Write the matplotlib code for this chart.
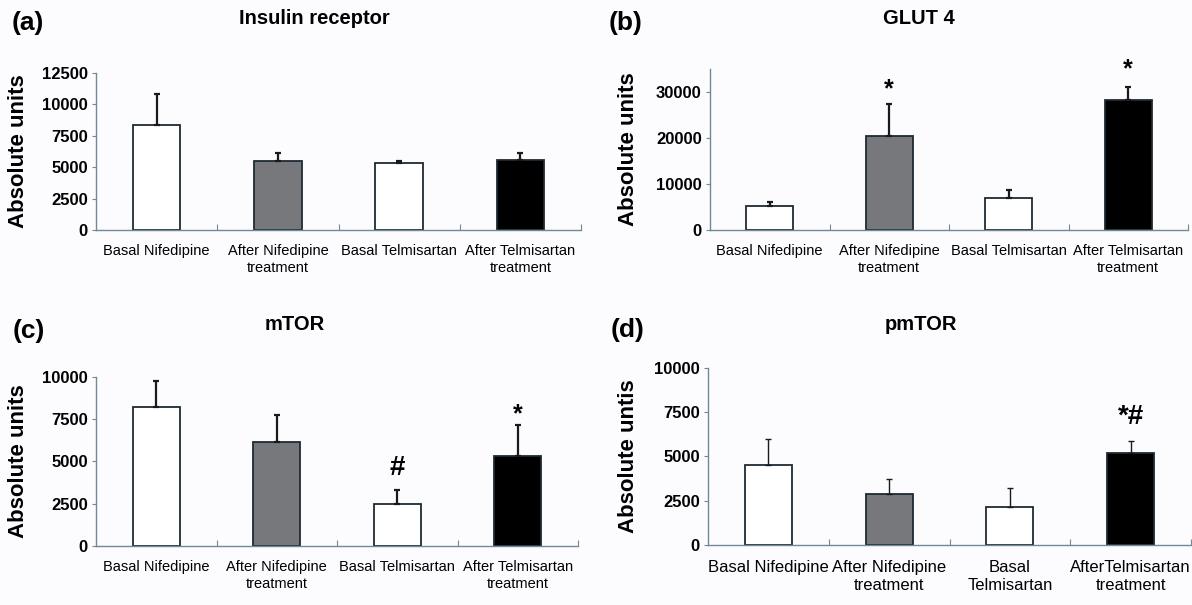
import matplotlib
matplotlib.use("Agg")
import matplotlib.pyplot as plt

plt.rcParams['font.family'] = ['Liberation Sans', 'DejaVu Sans']

# ---- data ----
groups = ["Basal Nifedipine", "After Nifedipine\ntreatment",
          "Basal Telmisartan", "After Telmisartan\ntreatment"]
groups_d = ["Basal Nifedipine", "After Nifedipine\ntreatment",
            "Basal\nTelmisartan", "AfterTelmisartan\ntreatment"]

insulin_mean = [8350, 5450, 5350, 5600]
insulin_err = [2450, 640, 100, 530]

glut4_mean = [5100, 20300, 7000, 28100]
glut4_err = [1000, 7000, 1650, 2900]

mtor_mean = [8230, 6160, 2480, 5310]
mtor_err = [1530, 1550, 830, 1850]

pmtor_mean = [4530, 2900, 2160, 5210]
pmtor_err = [1430, 810, 1050, 640]

bar_colors = ["white", "#77787c", "white", "black"]
axis_col = "#6f8a96"

W, H = 1192, 605
fig = plt.figure(figsize=(W / 100, H / 100), dpi=100)
fig.patch.set_facecolor("#fcfcfe")


def px_rect(x0, x1, ytop, ybot):
    # pixel box -> figure fraction
    return [x0 / W, 1 - ybot / H, (x1 - x0) / W, (ybot - ytop) / H]


panels = [
    # box(px), title, letter, means, errs, ylim, yticks, ylabel, labels, title xy, letter xy, ylabel x
    ((96, 581, 72.7, 230), "Insulin receptor", "(a)", insulin_mean, insulin_err,
     12500, [0, 2500, 5000, 7500, 10000, 12500], "Absolute units", groups, (314, 19), (28, 23), 19),
    ((710, 1188, 68.5, 230), "GLUT 4", "(b)", glut4_mean, glut4_err,
     35000, [0, 10000, 20000, 30000], "Absolute units", groups, (919, 19), (626, 23), 628),
    ((96, 578, 376.7, 546), "mTOR", "(c)", mtor_mean, mtor_err,
     10000, [0, 2500, 5000, 7500, 10000], "Absolute units", groups, (295, 325), (29, 331), 19),
    ((708, 1191, 367.7, 545), "pmTOR", "(d)", pmtor_mean, pmtor_err,
     10000, [0, 2500, 5000, 7500, 10000], "Absolute untis", groups_d, (921, 325), (628, 330), 628),
]

axes = []
for i, (box, title, letter, means, errs, ytop, yt, ylab, labels, txy, lxy, ylx) in enumerate(panels):
    ax = fig.add_axes(px_rect(*box))
    ax.set_facecolor("none")
    x = list(range(len(means)))
    lw_err = 1.0 if i == 3 else 1.6
    ax.bar(x, means, width=0.39, color=bar_colors, edgecolor="#1e2a33", linewidth=1.3,
           yerr=[[0] * len(errs), errs], capsize=2,
           error_kw=dict(ecolor="#1a1a1a", elinewidth=lw_err, capthick=lw_err))
    ax.set_xlim(-0.5, 3.5)
    ax.set_ylim(0, ytop)
    ax.set_yticks(yt)
    ax.set_yticklabels([str(v) for v in yt], fontweight="bold", fontsize=12)
    ax.set_xticks([0.5, 1.5, 2.5, 3.5])
    ax.set_xticklabels([])
    ax.set_xticks(x, minor=True)
    if i == 3:
        ax.set_xticklabels(labels, minor=True, fontsize=12, linespacing=1.25)
        ax.tick_params(axis="x", which="minor", length=0, pad=11)
    else:
        ax.set_xticklabels(labels, minor=True, fontsize=10.5, linespacing=1.25)
        ax.tick_params(axis="x", which="minor", length=0, pad=10)
    ax.tick_params(axis="x", which="major", direction="in", length=4, color=axis_col)
    ax.tick_params(axis="y", direction="out", length=3, color=axis_col, pad=3)
    for s in ["top", "right"]:
        ax.spines[s].set_visible(False)
    for s in ["left", "bottom"]:
        ax.spines[s].set_color(axis_col)
        ax.spines[s].set_linewidth(1.0)
    fig.text(ylx / W, 1 - (box[2] + box[3]) / 2 / H, ylab, rotation=90, ha="center", va="center",
             fontweight="bold", fontsize=16)
    fig.text(txy[0] / W, 1 - txy[1] / H, title, ha="center", va="center",
             fontweight="bold", fontsize=14.5)
    fig.text(lxy[0] / W, 1 - lxy[1] / H, letter, ha="center", va="center",
             fontweight="bold", fontsize=19)
    axes.append(ax)

# significance marks
axes[1].text(1, 30500, "*", ha="center", va="center", fontweight="bold", fontsize=18, clip_on=False)
axes[1].text(3, 34850, "*", ha="center", va="center", fontweight="bold", fontsize=18, clip_on=False)
axes[2].text(2, 4600, "#", ha="center", va="center", fontweight="bold", fontsize=20)
axes[2].text(3, 7780, "*", ha="center", va="center", fontweight="bold", fontsize=18)
axes[3].text(3, 7200, "*#", ha="center", va="center", fontweight="bold", fontsize=20)

fig.savefig("out.png", dpi=100, facecolor=fig.get_facecolor())
